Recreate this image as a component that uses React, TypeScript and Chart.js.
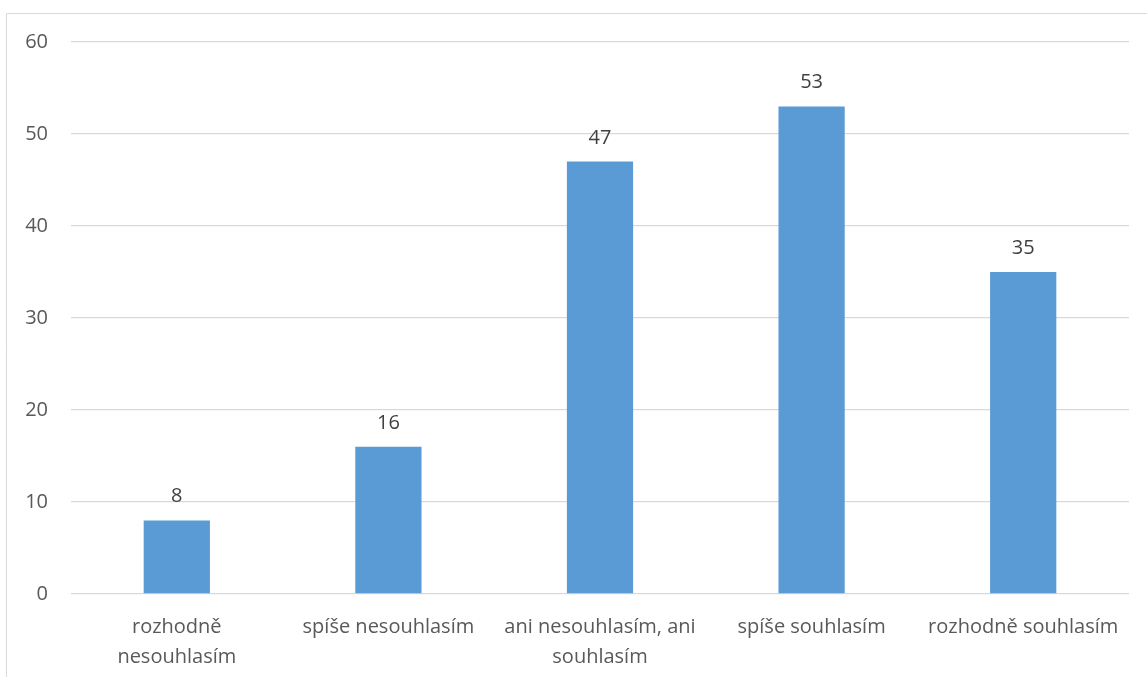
import React, { useEffect, useRef } from "react";
import { Chart, registerables } from "chart.js";

Chart.register(...registerables);

const categories: (string | string[])[] = [
  ["rozhodně", "nesouhlasím"],
  "spíše nesouhlasím",
  ["ani nesouhlasím, ani", "souhlasím"],
  "spíše souhlasím",
  "rozhodně souhlasím",
];
const values: number[] = [8, 16, 47, 53, 35];
const yTicks: number[] = [0, 10, 20, 30, 40, 50, 60];

const FONT = "'Open Sans', 'DejaVu Sans', sans-serif";

const frame = {
  id: "frame",
  beforeDraw(chart: any) {
    const ctx = chart.ctx;
    ctx.save();
    ctx.fillStyle = "#ffffff";
    ctx.fillRect(0, 0, chart.width, chart.height);
    ctx.strokeStyle = "#d9d9d9";
    ctx.lineWidth = 1;
    ctx.beginPath();
    ctx.moveTo(6.5, chart.height + 2);
    ctx.lineTo(6.5, 13.5);
    ctx.lineTo(chart.width + 2, 13.5);
    ctx.stroke();
    ctx.restore();
  },
};

const dataLabels = {
  id: "dataLabels",
  afterDatasetsDraw(chart: any) {
    const ctx = chart.ctx;
    const meta = chart.getDatasetMeta(0);
    const data = chart.data.datasets[0].data;
    ctx.save();
    ctx.font = `20px ${FONT}`;
    ctx.fillStyle = "#404040";
    ctx.textAlign = "center";
    ctx.textBaseline = "alphabetic";
    meta.data.forEach((bar: any, i: number) => {
      ctx.fillText(String(data[i]), bar.x, bar.y - 18);
    });
    ctx.restore();
  },
};

export default function App() {
  const ref = useRef<HTMLCanvasElement | null>(null);
  useEffect(() => {
    if (!ref.current) return;
    const chart = new Chart(ref.current, {
      type: "bar",
      data: {
        labels: categories,
        datasets: [
          {
            data: values,
            backgroundColor: "#5B9BD5",
            barPercentage: 0.313,
            categoryPercentage: 1,
          },
        ],
      },
      options: {
        animation: false,
        responsive: false,
        maintainAspectRatio: false,
        layout: { padding: { top: 42, right: 18, left: 0, bottom: 0 } },
        plugins: {
          legend: { display: false },
          tooltip: { enabled: false },
        },
        scales: {
          x: {
            grid: { display: false, drawTicks: false },
            border: { display: false },
            ticks: {
              color: "#595959",
              font: { family: FONT, size: 20, lineHeight: 1.5 },
              padding: 18,
              maxRotation: 0,
              autoSkip: false,
            },
            afterFit(scale: any) {
              scale.height = 677 - 594;
            },
          },
          y: {
            min: 0,
            max: 60,
            afterBuildTicks(scale: any) {
              scale.ticks = yTicks.map((v) => ({ value: v }));
            },
            grid: { color: "#d9d9d9", lineWidth: 1.3, drawTicks: false },
            border: { display: false },
            ticks: {
              color: "#595959",
              font: { family: FONT, size: 20 },
              padding: 23,
            },
            afterFit(scale: any) {
              scale.width = 71;
            },
          },
        },
      },
      plugins: [frame, dataLabels],
    });
    return () => chart.destroy();
  }, []);
  return (
    <div style={{ position: "fixed", left: 0, top: 0, width: 1147, height: 677, overflow: "hidden" }}>
      <canvas ref={ref} width={1147} height={677} style={{ display: "block", width: 1147, height: 677 }} />
    </div>
  );
}
